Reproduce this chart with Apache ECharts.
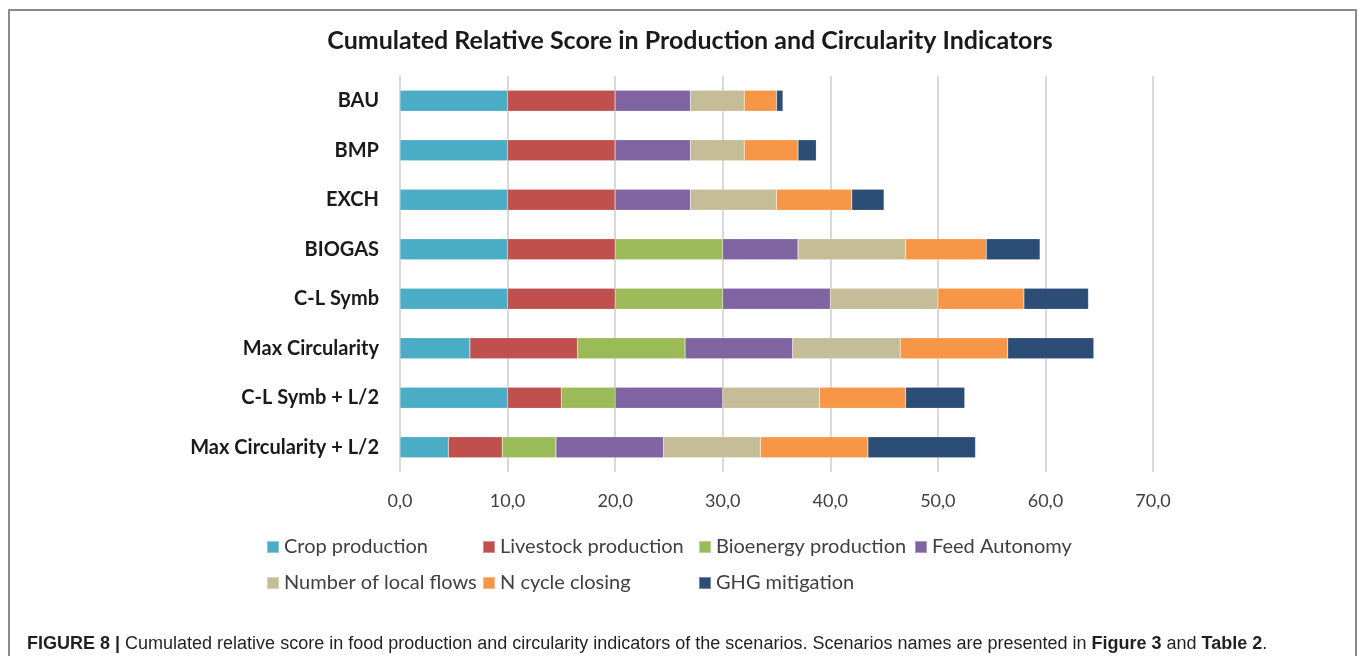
<!DOCTYPE html>
<html>
<head>
<meta charset="utf-8">
<script src="https://cdn.jsdelivr.net/npm/echarts@6/dist/echarts.min.js"></script>
<style>
  html, body { margin: 0; padding: 0; background: #fff; }
  #chart { width: 1358px; height: 656px; }
</style>
</head>
<body>
<div id="chart"></div>
<script>
// scenarios, top to bottom
const categories = ["BAU", "BMP", "EXCH", "BIOGAS", "C-L Symb", "Max Circularity", "C-L Symb + L/2", "Max Circularity + L/2"]
const cropProduction = [10, 10, 10, 10, 10, 6.5, 10, 4.5]
const livestockProduction = [10, 10, 10, 10, 10, 10, 5, 5]
const bioenergyProduction = [0, 0, 0, 10, 10, 10, 5, 5]
const feedAutonomy = [7, 7, 7, 7, 10, 10, 10, 10]
const localFlows = [5, 5, 8, 10, 10, 10, 9, 9]
const nCycleClosing = [3, 5, 7, 7.5, 8, 10, 8, 10]
const ghgMitigation = [0.6, 1.7, 3, 5, 6, 8, 5.5, 10]

const seriesNames = ["Crop production", "Livestock production", "Bioenergy production", "Feed Autonomy",
  "Number of local flows", "N cycle closing", "GHG mitigation"]
const seriesData = [cropProduction, livestockProduction, bioenergyProduction, feedAutonomy,
  localFlows, nCycleClosing, ghgMitigation]
const colors = ["#4BACC6", "#C0504D", "#9BBB59", "#8064A2", "#C4BD97", "#F79646", "#2C4D75"]

let chart = echarts.init(document.getElementById("chart"))

// one legend per item so they sit in fixed columns, like the Excel legend
const legendCols = [261, 477, 693, 909]
const legendRows = [532, 568]
const legends = seriesNames.map((name, i) => ({
  left: legendCols[i % 4],
  top: legendRows[Math.floor(i / 4)],
  data: [name],
  itemWidth: 12,
  itemHeight: 12,
  icon: "rect",
  textStyle: {
    fontFamily: "Lato",
    fontSize: 20,
    color: "#404040"
  }
}))

chart.setOption({
  color: colors,
  title: [
    {
      text: "Cumulated Relative Score in Production and Circularity Indicators",
      left: 685,
      top: 23,
      textAlign: "center",
      textStyle: {
        fontFamily: "Lato",
        fontSize: 25,
        fontWeight: "bold",
        color: "#1a1a1a"
      }
    },
    {
      text: "{b|FIGURE 8 |} Cumulated relative score in food production and circularity indicators of the scenarios. Scenarios names are presented in {b|Figure 3} and {b|Table 2}.",
      left: 22,
      top: 630,
      textStyle: {
        fontFamily: "Liberation Sans",
        fontSize: 18,
        fontWeight: "normal",
        color: "#231f20",
        rich: {
          b: { fontFamily: "Liberation Sans", fontSize: 18, fontWeight: "bold", color: "#231f20" }
        }
      }
    }
  ],
  graphic: [
    {
      type: "rect",
      shape: { x: 9, y: 10, width: 1347, height: 720 },
      style: { fill: "none", stroke: "#8a8a8a", lineWidth: 2 },
      silent: true
    }
  ],
  legend: legends,
  grid: {
    left: 400,
    right: 205,
    top: 76,
    bottom: 184
  },
  xAxis: {
    type: "value",
    min: 0,
    max: 70,
    interval: 10,
    axisLine: { show: false },
    axisTick: { show: false },
    splitLine: { lineStyle: { color: "#d9d9d9", width: 2 } },
    axisLabel: {
      margin: 20,
      fontFamily: "Lato",
      fontSize: 18,
      color: "#404040",
      formatter: (v) => v.toFixed(1).replace(".", ",")
    }
  },
  yAxis: {
    type: "category",
    data: categories,
    inverse: true,
    axisLine: { show: false },
    axisTick: { show: false },
    axisLabel: {
      margin: 21,
      fontFamily: "Lato",
      fontSize: 20,
      fontWeight: "bold",
      color: "#1a1a1a"
    }
  },
  series: seriesNames.map((name, i) => ({
    name: name,
    type: "bar",
    stack: "total",
    barWidth: 21,
    data: seriesData[i],
    itemStyle: { borderColor: "rgba(255,255,255,0.35)", borderWidth: 0.5 }
  }))
})
</script>
</body>
</html>
